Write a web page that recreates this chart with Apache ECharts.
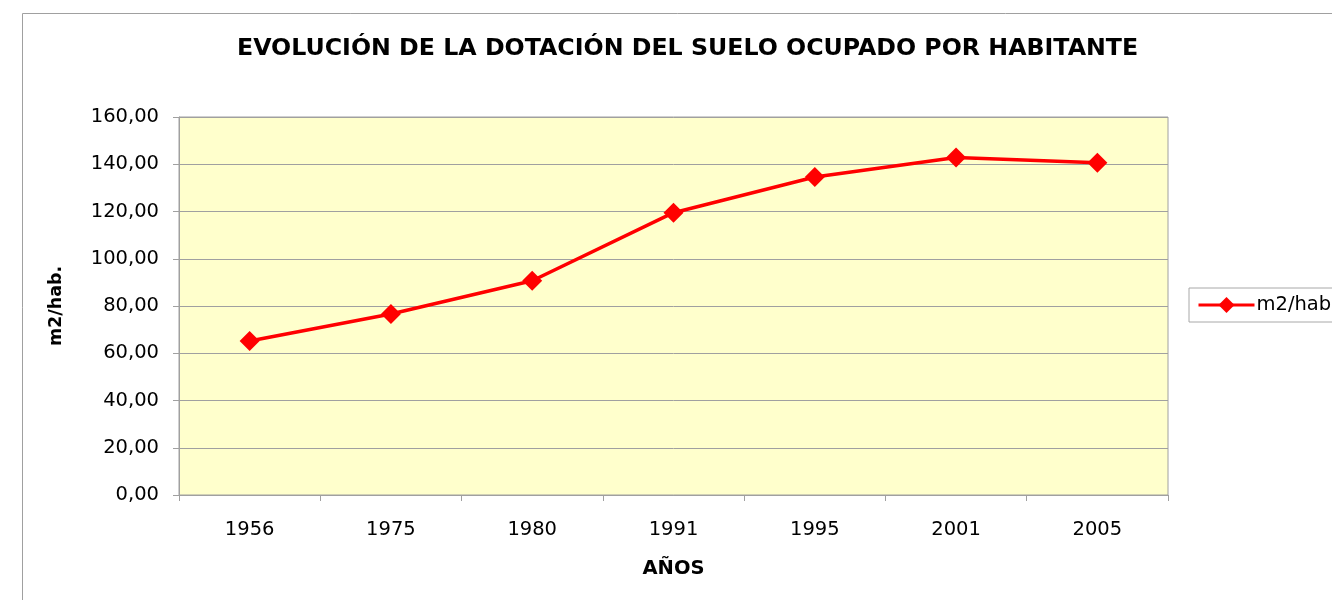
<!DOCTYPE html>
<html>
<head>
<meta charset="utf-8">
<script src="https://cdn.jsdelivr.net/npm/echarts@6/dist/echarts.min.js"></script>
<style>
  html, body { margin: 0; padding: 0; background: #fff; }
  #chart { width: 1332px; height: 600px; }
</style>
</head>
<body>
<div id="chart"></div>
<script>
const years = ['1956', '1975', '1980', '1991', '1995', '2001', '2005']
const m2PorHab = [65.2, 76.6, 90.7, 119.5, 134.6, 142.9, 140.6]
const yTicks = [0, 20, 40, 60, 80, 100, 120, 140, 160]

const font = "'DejaVu Sans', Verdana, sans-serif"
const chart = echarts.init(document.getElementById('chart'))

chart.setOption({
  backgroundColor: '#fff',
  textStyle: { fontFamily: font },
  animation: false,
  title: {
    text: 'EVOLUCIÓN DE LA DOTACIÓN DEL SUELO OCUPADO POR HABITANTE',
    left: 237,
    top: 37,
    padding: 0,
    textStyle: { fontFamily: font, fontSize: 23.7, fontWeight: 'bold', color: '#000' }
  },
  legend: {
    left: 1189,
    top: 288,
    padding: [7, 40, 7, 8],
    borderColor: '#a8a8a8',
    borderWidth: 1,
    itemWidth: 56,
    itemHeight: 20,
    itemGap: 4,
    lineStyle: { width: 3 },
    textStyle: { fontFamily: font, fontSize: 19.5, color: '#000', padding: [0, 0, 0, -3] },
    data: ['m2/hab.']
  },
  graphic: [{
    type: 'rect',
    z: -10,
    shape: { x: 22.5, y: 13.5, width: 1400, height: 700 },
    style: { fill: 'none', stroke: '#a0a0a0', lineWidth: 1 }
  }],
  grid: {
    left: 179, top: 117, width: 989, height: 378,
    show: true,
    backgroundColor: '#ffffcc',
    borderColor: '#a0a0a0',
    borderWidth: 1
  },
  xAxis: {
    type: 'category',
    data: years,
    boundaryGap: true,
    name: 'AÑOS',
    nameLocation: 'middle',
    nameGap: 64,
    nameTextStyle: { fontFamily: font, fontSize: 19.5, fontWeight: 'bold', color: '#000' },
    axisLine: { lineStyle: { color: '#a0a0a0', width: 1 } },
    axisTick: { show: true, length: 6, lineStyle: { color: '#a0a0a0' } },
    axisLabel: { fontFamily: font, fontSize: 19.5, color: '#000', margin: 25 },
    splitLine: { show: false }
  },
  yAxis: {
    type: 'value',
    min: yTicks[0],
    max: yTicks[yTicks.length - 1],
    interval: 20,
    name: 'm2/hab.',
    nameLocation: 'middle',
    nameGap: 114,
    nameTextStyle: { fontFamily: font, fontSize: 17.5, fontWeight: 'bold', color: '#000' },
    axisLine: { show: true, lineStyle: { color: '#a0a0a0', width: 1 } },
    axisTick: { show: true, length: 6, lineStyle: { color: '#a0a0a0' } },
    axisLabel: {
      fontFamily: font, fontSize: 19.5, color: '#000', margin: 20,
      formatter: v => v.toFixed(2).replace('.', ',')
    },
    splitLine: { lineStyle: { color: '#a0a0a0', width: 1 } }
  },
  series: [{
    name: 'm2/hab.',
    type: 'line',
    data: m2PorHab,
    symbol: 'diamond',
    symbolSize: 20,
    lineStyle: { color: '#ff0000', width: 3.5 },
    itemStyle: { color: '#ff0000' }
  }]
})
</script>
</body>
</html>
